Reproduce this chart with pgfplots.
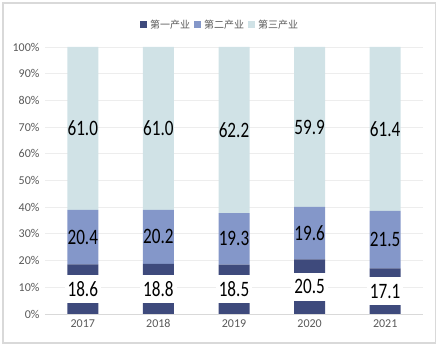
\documentclass[border=0pt]{standalone}
\usepackage{pgfplots}
\usepackage{pgfplotstable}
\pgfplotsset{compat=1.18}
\usepackage{fontspec}
\setmainfont{Carlito}
\newfontfamily\cjk{Noto Sans CJK SC}
\definecolor{cA}{HTML}{3E4A7C}
\definecolor{cB}{HTML}{8497C9}
\definecolor{cC}{HTML}{D0E2E6}
\definecolor{tgrey}{HTML}{595959}
\definecolor{gridc}{HTML}{EDEDED}
\definecolor{framec}{HTML}{D9D9D9}
\pgfplotstableread{
x a b c
0 18.6 20.4 61.0
1 18.8 20.2 61.0
2 18.5 19.3 62.2
3 20.5 19.6 59.9
4 17.1 21.5 61.4
}\datatable
% label positions: middle of each stacked segment
\pgfplotstablecreatecol[expr={\thisrow{a}/2}]{pa}\datatable
\pgfplotstablecreatecol[expr={\thisrow{a}+\thisrow{b}/2}]{pb}\datatable
\pgfplotstablecreatecol[expr={\thisrow{a}+\thisrow{b}+\thisrow{c}/2}]{pc}\datatable
\newcommand{\lbl}[1]{\scalebox{0.78}[1]{\fontsize{22}{22}\selectfont #1}}
\pgfplotsset{geom/.style={at={(45pt,39pt)}, anchor=south west,
  scale only axis, width=378pt, height=267pt,
  xmin=-0.5, xmax=4.5, ymin=0, ymax=100}}
\begin{document}
\begin{tikzpicture}
\useasboundingbox (0,0) rectangle (442pt,353pt);
\draw[framec, line width=1.5pt] (3pt,10pt) rectangle (435.5pt,350pt);
\begin{axis}[geom,
  ybar stacked, bar width=31pt,
  xtick={0,1,2,3,4}, xticklabels={2017,2018,2019,2020,2021},
  ytick={0,10,...,100},
  yticklabel={\pgfmathprintnumber{\tick}\%},
  /pgf/number format/assume math mode=true,
  ticklabel style={font=\fontsize{12}{12}\selectfont, text=tgrey},
  xticklabel style={yshift=-2pt},
  yticklabel style={xshift=-2pt},
  major tick length=0pt,
  ymajorgrids, grid style={gridc, line width=0.8pt},
  axis x line*=bottom, axis y line*=left,
  x axis line style={framec, line width=0.8pt, -},
  y axis line style={draw=none},
  legend style={at={(0.463,1.0)}, anchor=south, yshift=15pt, draw=none, fill=none,
    legend columns=-1, font=\cjk\fontsize{10}{10}\selectfont, text=tgrey,
    /tikz/every even column/.append style={column sep=2pt},
    inner sep=0pt},
  legend image code/.code={\fill[#1] (0pt,-3.5pt) rectangle (7pt,3.5pt);},
]
\addplot[fill=cA, draw=none] table[x=x, y=a] {\datatable};
\addplot[fill=cB, draw=none] table[x=x, y=b] {\datatable};
\addplot[fill=cC, draw=none] table[x=x, y=c] {\datatable};
\legend{\hspace{1pt}第一产业, \hspace{1pt}第二产业, \hspace{1pt}第三产业}
\end{axis}
\begin{axis}[geom, hide axis,
  /pgf/number format/assume math mode=true,
  nodes near coords={\lbl{\pgfmathprintnumber[fixed,fixed zerofill,precision=1,assume math mode=true]{\pgfplotspointmeta}}},
  every node near coord/.append style={anchor=center, text=black},
  point meta=explicit]
\addplot[draw=none, mark=none,
  every node near coord/.append style={fill=white, inner xsep=3pt, minimum height=28pt}]
  table[x=x, y=pa, meta=a] {\datatable};
\addplot[draw=none, mark=none] table[x=x, y=pb, meta=b] {\datatable};
\addplot[draw=none, mark=none] table[x=x, y=pc, meta=c] {\datatable};
\end{axis}
\end{tikzpicture}
\end{document}
